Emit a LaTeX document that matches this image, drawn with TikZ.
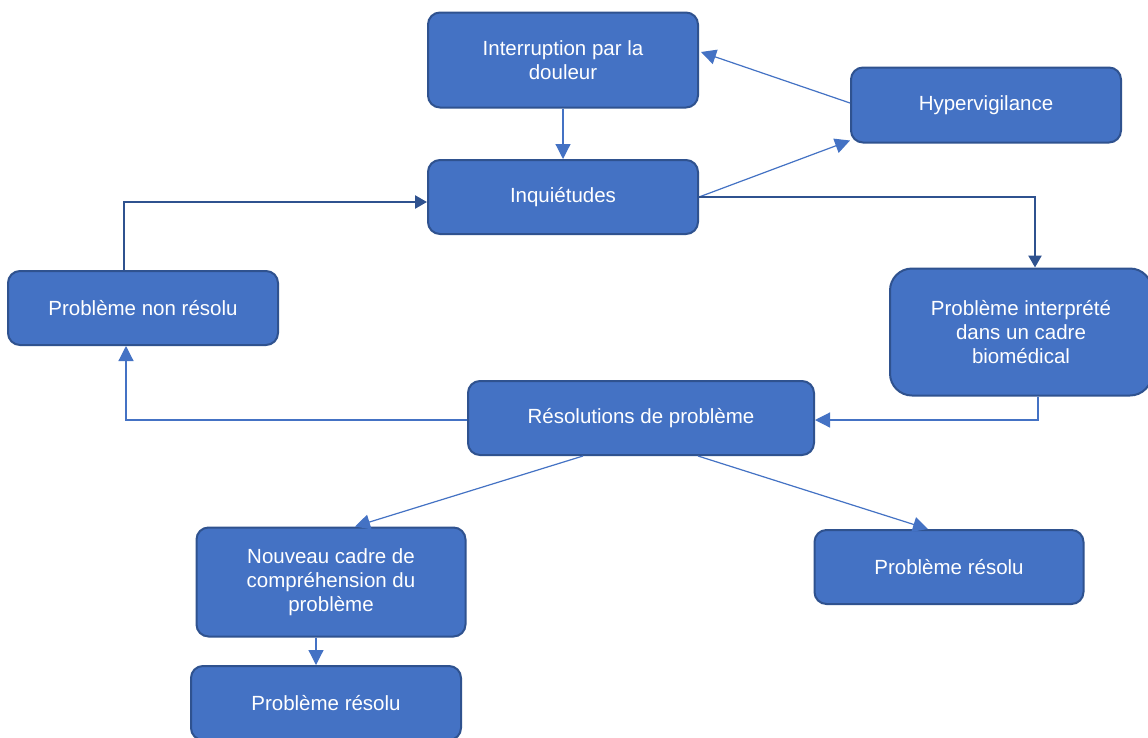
\documentclass[tikz,border=0pt]{standalone}
\usepackage{fontspec}
\setmainfont{Liberation Sans}
\usetikzlibrary{arrows.meta}
\definecolor{boxfill}{HTML}{4472C4}
\definecolor{boxline}{HTML}{2F528F}
\begin{document}
\begin{tikzpicture}[x=1pt,y=-1pt,
 box/.style={draw=boxline, line width=2pt, fill=boxfill, rounded corners=12pt, text=white, align=center, font=\fontsize{20.5}{24}\selectfont, inner sep=0pt},
 lightarrow/.style={draw=boxfill, line width=1.2pt, -{Triangle[length=15pt,width=15pt]}},
 darkarrow/.style={draw=boxline, line width=2.4pt, -{Triangle[length=12pt,width=13pt]}}]
\clip (0,0) rectangle (1148,737);
\fill[white] (0,0) rectangle (1148,737);

\node[box, minimum width=270pt, minimum height=95pt] (intr) at (563,60) {Interruption par la\\douleur};
\node[box, minimum width=270pt, minimum height=74pt] (inq) at (563,197) {Inquiétudes};
\node[box, minimum width=270pt, minimum height=75pt] (hyp) at (986,105) {Hypervigilance};
\node[box, minimum width=270pt, minimum height=74pt] (pnr) at (143,308) {Problème non résolu};
\node[box, rounded corners=22pt, minimum width=262pt, minimum height=127pt] (pib) at (1021,332) {Problème interprété\\dans un cadre\\biomédical};
\node[box, minimum width=346pt, minimum height=74pt] (res) at (641,418) {Résolutions de problème};
\node[box, minimum width=269pt, minimum height=109pt] (nc) at (331,582) {Nouveau cadre de\\compréhension du\\problème};
\node[box, minimum width=269pt, minimum height=74pt] (pr1) at (949,567) {Problème résolu};
\node[box, minimum width=270pt, minimum height=74pt] (pr2) at (326,703) {Problème résolu};

\draw[lightarrow] (intr.south) -- (inq.north);
\draw[lightarrow] ([yshift=2pt]hyp.west) -- ([xshift=2pt,yshift=8pt]intr.east);
\draw[lightarrow] (inq.east) -- ([yshift=3pt]hyp.south west);
\draw[darkarrow] (inq.east) -| ([xshift=14pt]pib.north);
\draw[darkarrow] ([xshift=-19pt]pnr.north) |- ([yshift=-5pt]inq.west);
\draw[lightarrow] ([xshift=17pt]pib.south) |- ([yshift=-2pt]res.east);
\draw[lightarrow] ([yshift=-2pt]res.west) -| ([xshift=-17pt]pnr.south);
\draw[lightarrow] ([xshift=-58pt]res.south) -- ([xshift=24pt]nc.north);
\draw[lightarrow] ([xshift=57pt]res.south) -- ([xshift=-21pt]pr1.north);
\draw[lightarrow] ([xshift=-15pt]nc.south) -- ([xshift=-10pt]pr2.north);
\end{tikzpicture}
\end{document}
